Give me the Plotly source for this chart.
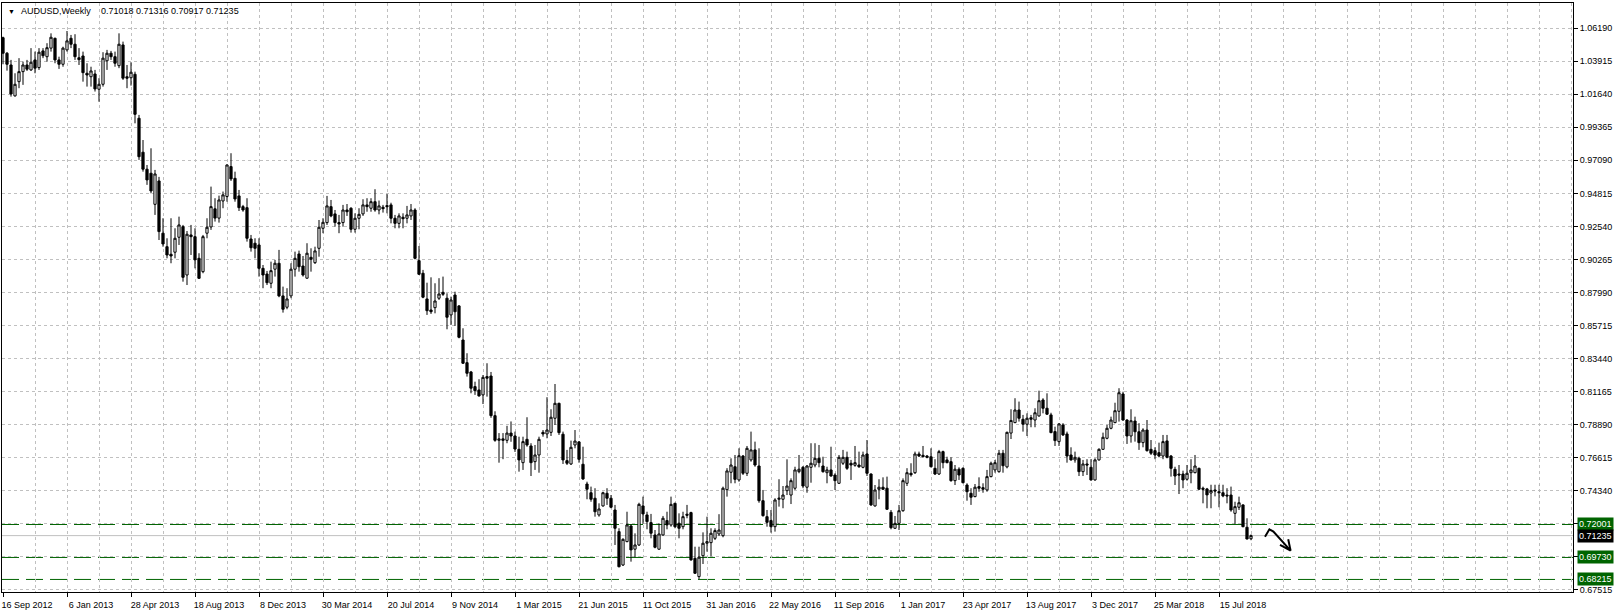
import pandas as pd
import plotly.graph_objects as go

SYMBOL = "AUDUSD,Weekly"
FIRST_WEEK = "2012-09-16"

opens = [
    1.0554, 1.0447, 1.0366, 1.0153, 1.0251, 1.0320, 1.0366, 1.0332, 1.0401, 1.0348,
    1.0463, 1.0423, 1.0482, 1.0550, 1.0401, 1.0371, 1.0470, 1.0550, 1.0509, 1.0416,
    1.0428, 1.0309, 1.0285, 1.0304, 1.0199, 1.0233, 1.0395, 1.0447, 1.0423, 1.0361,
    1.0504, 1.0285, 1.0278, 1.0302, 0.9999, 0.9765, 0.9648, 0.9620, 0.9406, 0.9567,
    0.9207, 0.9114, 0.9062, 0.9076, 0.9179, 0.9252, 0.8919, 0.9195, 0.9183, 0.9034,
    0.8942, 0.9207, 0.9250, 0.9375, 0.9311, 0.9429, 0.9460, 0.9666, 0.9585, 0.9464,
    0.9390, 0.9383, 0.9167, 0.9138, 0.9126, 0.8965, 0.8926, 0.8862, 0.8959, 0.9000,
    0.8775, 0.8697, 0.8775, 0.8959, 0.9064, 0.8981, 0.8897, 0.9041, 0.9004, 0.9103,
    0.9241, 0.9280, 0.9390, 0.9340, 0.9280, 0.9280, 0.9367, 0.9379, 0.9234, 0.9310,
    0.9340, 0.9402, 0.9379, 0.9424, 0.9367, 0.9386, 0.9397, 0.9402, 0.9310, 0.9275,
    0.9317, 0.9310, 0.9326, 0.9367, 0.9018, 0.8931, 0.8754, 0.8678, 0.8694, 0.8759,
    0.8800, 0.8759, 0.8644, 0.8781, 0.8706, 0.8471, 0.8315, 0.8251, 0.8150, 0.8127,
    0.8093, 0.8219, 0.8223, 0.7950, 0.7780, 0.7790, 0.7780, 0.7830, 0.7810, 0.7718,
    0.7626, 0.7787, 0.7741, 0.7633, 0.7679, 0.7835, 0.7824, 0.7835, 0.7932, 0.8035,
    0.7822, 0.7640, 0.7617, 0.7748, 0.7769, 0.7615, 0.7479, 0.7419, 0.7381, 0.7266,
    0.7328, 0.7415, 0.7381, 0.7300, 0.7151, 0.6921, 0.7082, 0.7190, 0.7030, 0.7059,
    0.7328, 0.7266, 0.7213, 0.7128, 0.7030, 0.7128, 0.7227, 0.7197, 0.7346, 0.7209,
    0.7185, 0.7271, 0.7282, 0.6967, 0.6841, 0.6985, 0.7071, 0.7075, 0.7105, 0.7135,
    0.7123, 0.7440, 0.7560, 0.7598, 0.7507, 0.7672, 0.7553, 0.7645, 0.7714, 0.7603,
    0.7364, 0.7254, 0.7227, 0.7185, 0.7374, 0.7374, 0.7433, 0.7403, 0.7450, 0.7564,
    0.7594, 0.7457, 0.7594, 0.7610, 0.7656, 0.7603, 0.7557, 0.7576, 0.7541, 0.7484,
    0.7622, 0.7663, 0.7622, 0.7608, 0.7610, 0.7594, 0.7686, 0.7548, 0.7328, 0.7443,
    0.7457, 0.7450, 0.7284, 0.7174, 0.7208, 0.7295, 0.7484, 0.7553, 0.7557, 0.7686,
    0.7677, 0.7672, 0.7667, 0.7587, 0.7548, 0.7702, 0.7645, 0.7633, 0.7502, 0.7581,
    0.7587, 0.7472, 0.7415, 0.7392, 0.7461, 0.7454, 0.7438, 0.7530, 0.7576, 0.7564,
    0.7691, 0.7597, 0.7830, 0.7902, 0.7989, 0.7925, 0.7891, 0.7936, 0.7920, 0.7948,
    0.8058, 0.8001, 0.7955, 0.7840, 0.7771, 0.7886, 0.7824, 0.7679, 0.7645, 0.7656,
    0.7564, 0.7617, 0.7594, 0.7507, 0.7645, 0.7718, 0.7794, 0.7863, 0.7902, 0.7980,
    0.8099, 0.7920, 0.7810, 0.7913, 0.7839, 0.7764, 0.7851, 0.7718, 0.7709, 0.7695,
    0.7672, 0.7776, 0.7672, 0.7580, 0.7548, 0.7548, 0.7512, 0.7557, 0.7557, 0.7587,
    0.7450, 0.7445, 0.7417, 0.7438, 0.7426, 0.7419, 0.7403, 0.7403, 0.7277, 0.7319,
    0.7335, 0.7181, 0.71018,
]
highs = [
    1.0561, 1.0455, 1.0401, 1.0309, 1.0413, 1.0389, 1.0401, 1.0482, 1.0458, 1.0482,
    1.0482, 1.0516, 1.0584, 1.0554, 1.0423, 1.0492, 1.0600, 1.0573, 1.0578, 1.0482,
    1.0458, 1.0378, 1.0354, 1.0332, 1.0275, 1.0454, 1.0470, 1.0463, 1.0458, 1.0584,
    1.0527, 1.0366, 1.0385, 1.0320, 1.0022, 0.9849, 0.9677, 0.9792, 0.9643, 0.9595,
    0.9310, 0.9172, 0.9310, 0.9241, 0.9321, 0.9264, 0.9222, 0.9264, 0.9241, 0.9069,
    0.9195, 0.9310, 0.9528, 0.9448, 0.9466, 0.9494, 0.9682, 0.9758, 0.9631, 0.9505,
    0.9402, 0.9448, 0.9195, 0.9172, 0.9172, 0.8988, 0.8947, 0.9011, 0.9023, 0.9092,
    0.8839, 0.8828, 0.9000, 0.9080, 0.9087, 0.9050, 0.9138, 0.9103, 0.9114, 0.9298,
    0.9310, 0.9464, 0.9436, 0.9367, 0.9333, 0.9402, 0.9408, 0.9386, 0.9344, 0.9379,
    0.9441, 0.9448, 0.9448, 0.9510, 0.9432, 0.9402, 0.9477, 0.9417, 0.9333, 0.9344,
    0.9344, 0.9395, 0.9408, 0.9379, 0.9119, 0.8954, 0.8866, 0.8903, 0.8862, 0.8897,
    0.8908, 0.8793, 0.8770, 0.8804, 0.8712, 0.8552, 0.8380, 0.8258, 0.8184, 0.8201,
    0.8230, 0.8311, 0.8251, 0.7980, 0.7830, 0.7830, 0.7880, 0.7910, 0.7840, 0.7805,
    0.7805, 0.7939, 0.7760, 0.7748, 0.7805, 0.7851, 0.8077, 0.7994, 0.8168, 0.8039,
    0.7840, 0.7714, 0.7778, 0.7851, 0.7775, 0.7736, 0.7495, 0.7461, 0.7450, 0.7346,
    0.7426, 0.7450, 0.7403, 0.7335, 0.7174, 0.7105, 0.7288, 0.7202, 0.7139, 0.7350,
    0.7392, 0.7288, 0.7273, 0.7162, 0.7208, 0.7259, 0.7288, 0.7392, 0.7350, 0.7277,
    0.7288, 0.7335, 0.7288, 0.7047, 0.7047, 0.7146, 0.7254, 0.7174, 0.7174, 0.7271,
    0.7461, 0.7588, 0.7656, 0.7679, 0.7725, 0.7679, 0.7741, 0.7840, 0.7771, 0.7725,
    0.7438, 0.7300, 0.7300, 0.7381, 0.7512, 0.7465, 0.7649, 0.7518, 0.7598, 0.7679,
    0.7603, 0.7610, 0.7760, 0.7760, 0.7748, 0.7667, 0.7598, 0.7736, 0.7553, 0.7679,
    0.7714, 0.7702, 0.7645, 0.7741, 0.7702, 0.7702, 0.7782, 0.7552, 0.7472, 0.7512,
    0.7525, 0.7530, 0.7300, 0.7259, 0.7335, 0.7518, 0.7588, 0.7622, 0.7702, 0.7702,
    0.7741, 0.7679, 0.7725, 0.7650, 0.7714, 0.7709, 0.7667, 0.7663, 0.7610, 0.7594,
    0.7594, 0.7484, 0.7450, 0.7479, 0.7525, 0.7484, 0.7576, 0.7633, 0.7645, 0.7714,
    0.7714, 0.7840, 0.7994, 0.8070, 0.8047, 0.7955, 0.7966, 0.7955, 0.8001, 0.8122,
    0.8070, 0.8104, 0.7970, 0.7874, 0.7898, 0.7898, 0.7840, 0.7732, 0.7702, 0.7667,
    0.7645, 0.7650, 0.7650, 0.7656, 0.7725, 0.7833, 0.7886, 0.7943, 0.8039, 0.8139,
    0.8115, 0.7925, 0.7994, 0.7943, 0.7898, 0.7863, 0.7920, 0.7782, 0.7732, 0.7764,
    0.7817, 0.7817, 0.7679, 0.7598, 0.7610, 0.7571, 0.7610, 0.7650, 0.7679, 0.7592,
    0.7461, 0.7452, 0.7474, 0.7474, 0.7474, 0.7474, 0.7450, 0.7461, 0.7357, 0.7392,
    0.7339, 0.7243, 0.71316,
]
lows = [
    1.0371, 1.0327, 1.0148, 1.0148, 1.0206, 1.0229, 1.0325, 1.0325, 1.0309, 1.0332,
    1.0413, 1.0389, 1.0458, 1.0378, 1.0339, 1.0354, 1.0458, 1.0482, 1.0401, 1.0366,
    1.0251, 1.0217, 1.0217, 1.0183, 1.0113, 1.0217, 1.0332, 1.0401, 1.0354, 1.0344,
    1.0263, 1.0206, 1.0224, 0.9964, 0.9712, 0.9631, 0.9540, 0.9482, 0.9333, 0.9160,
    0.9114, 0.9034, 0.9000, 0.9034, 0.9126, 0.8873, 0.8850, 0.9057, 0.8965, 0.8892,
    0.8931, 0.9172, 0.9230, 0.9287, 0.9280, 0.9379, 0.9424, 0.9567, 0.9424, 0.9360,
    0.9355, 0.9149, 0.9080, 0.9034, 0.8908, 0.8828, 0.8850, 0.8828, 0.8908, 0.8766,
    0.8660, 0.8683, 0.8759, 0.8908, 0.8942, 0.8908, 0.8894, 0.8942, 0.8995, 0.9045,
    0.9207, 0.9264, 0.9317, 0.9252, 0.9207, 0.9252, 0.9326, 0.9211, 0.9211, 0.9234,
    0.9326, 0.9355, 0.9355, 0.9355, 0.9337, 0.9349, 0.9344, 0.9275, 0.9241, 0.9241,
    0.9241, 0.9275, 0.9298, 0.9027, 0.8919, 0.8759, 0.8644, 0.8651, 0.8655, 0.8747,
    0.8775, 0.8545, 0.8575, 0.8568, 0.8483, 0.8306, 0.8219, 0.8104, 0.8093, 0.8081,
    0.8030, 0.8081, 0.7935, 0.7770, 0.7626, 0.7650, 0.7760, 0.7770, 0.7700, 0.7564,
    0.7576, 0.7736, 0.7534, 0.7576, 0.7557, 0.7805, 0.7794, 0.7810, 0.7886, 0.7817,
    0.7617, 0.7610, 0.7610, 0.7725, 0.7626, 0.7507, 0.7374, 0.7357, 0.7254, 0.7254,
    0.7323, 0.7335, 0.7312, 0.7059, 0.6905, 0.6914, 0.7078, 0.6944, 0.6974, 0.7052,
    0.7204, 0.7167, 0.7105, 0.7036, 0.7025, 0.7123, 0.7167, 0.7185, 0.7174, 0.7105,
    0.7167, 0.7243, 0.6951, 0.6859, 0.6823, 0.6928, 0.7013, 0.6981, 0.7093, 0.7121,
    0.7112, 0.7392, 0.7484, 0.7484, 0.7495, 0.7541, 0.7534, 0.7633, 0.7598, 0.7350,
    0.7254, 0.7185, 0.7144, 0.7151, 0.7323, 0.7312, 0.7403, 0.7341, 0.7438, 0.7553,
    0.7450, 0.7419, 0.7488, 0.7594, 0.7594, 0.7557, 0.7484, 0.7530, 0.7438, 0.7479,
    0.7610, 0.7576, 0.7507, 0.7598, 0.7590, 0.7587, 0.7534, 0.7328, 0.7323, 0.7374,
    0.7438, 0.7300, 0.7167, 0.7169, 0.7162, 0.7288, 0.7465, 0.7530, 0.7548, 0.7665,
    0.7663, 0.7656, 0.7594, 0.7541, 0.7541, 0.7587, 0.7622, 0.7495, 0.7472, 0.7507,
    0.7484, 0.7364, 0.7335, 0.7388, 0.7426, 0.7419, 0.7426, 0.7525, 0.7557, 0.7557,
    0.7557, 0.7587, 0.7789, 0.7898, 0.7909, 0.7840, 0.7810, 0.7870, 0.7870, 0.7943,
    0.7966, 0.7955, 0.7829, 0.7741, 0.7741, 0.7810, 0.7626, 0.7640, 0.7626, 0.7534,
    0.7534, 0.7541, 0.7502, 0.7502, 0.7640, 0.7714, 0.7787, 0.7856, 0.7898, 0.7909,
    0.7915, 0.7755, 0.7764, 0.7771, 0.7714, 0.7732, 0.7702, 0.7679, 0.7650, 0.7663,
    0.7650, 0.7656, 0.7530, 0.7472, 0.7410, 0.7450, 0.7502, 0.7484, 0.7553, 0.7438,
    0.7346, 0.7312, 0.7312, 0.7394, 0.7319, 0.7388, 0.7346, 0.7288, 0.7204, 0.7300,
    0.7181, 0.7098, 0.70917,
]
closes = [
    1.0447, 1.0371, 1.0166, 1.0233, 1.0320, 1.0366, 1.0337, 1.0385, 1.0344, 1.0454,
    1.0430, 1.0485, 1.0557, 1.0401, 1.0371, 1.0482, 1.0532, 1.0509, 1.0423, 1.0403,
    1.0313, 1.0297, 1.0325, 1.0201, 1.0233, 1.0413, 1.0447, 1.0423, 1.0378, 1.0509,
    1.0275, 1.0275, 1.0316, 1.0026, 0.9734, 0.9648, 0.9574, 0.9498, 0.9615, 0.9218,
    0.9133, 0.9057, 0.9050, 0.9172, 0.9264, 0.8903, 0.9200, 0.9183, 0.9023, 0.8896,
    0.9183, 0.9248, 0.9390, 0.9311, 0.9436, 0.9471, 0.9677, 0.9581, 0.9443, 0.9383,
    0.9367, 0.9172, 0.9107, 0.9103, 0.8965, 0.8919, 0.8866, 0.8949, 0.9000, 0.8775,
    0.8683, 0.8754, 0.8959, 0.9034, 0.8976, 0.8919, 0.9069, 0.9027, 0.9085, 0.9248,
    0.9282, 0.9395, 0.9326, 0.9280, 0.9271, 0.9367, 0.9355, 0.9234, 0.9310, 0.9337,
    0.9402, 0.9390, 0.9424, 0.9367, 0.9395, 0.9376, 0.9390, 0.9310, 0.9275, 0.9326,
    0.9307, 0.9333, 0.9367, 0.9034, 0.8924, 0.8766, 0.8673, 0.8666, 0.8740, 0.8788,
    0.8786, 0.8628, 0.8747, 0.8666, 0.8490, 0.8311, 0.8242, 0.8139, 0.8122, 0.8086,
    0.8214, 0.8208, 0.7950, 0.7780, 0.7790, 0.7780, 0.7830, 0.7810, 0.7720, 0.7645,
    0.7771, 0.7748, 0.7626, 0.7679, 0.7787, 0.7824, 0.7851, 0.7939, 0.8035, 0.7833,
    0.7645, 0.7622, 0.7732, 0.7775, 0.7649, 0.7514, 0.7443, 0.7374, 0.7288, 0.7307,
    0.7419, 0.7381, 0.7319, 0.7174, 0.6909, 0.7098, 0.7197, 0.7025, 0.7059, 0.7339,
    0.7273, 0.7220, 0.7140, 0.7043, 0.7135, 0.7243, 0.7197, 0.7339, 0.7185, 0.7174,
    0.7254, 0.7264, 0.6956, 0.6864, 0.6975, 0.7071, 0.7082, 0.7140, 0.7158, 0.7162,
    0.7450, 0.7569, 0.7610, 0.7511, 0.7674, 0.7553, 0.7725, 0.7714, 0.7610, 0.7364,
    0.7261, 0.7215, 0.7185, 0.7369, 0.7381, 0.7403, 0.7465, 0.7502, 0.7576, 0.7581,
    0.7465, 0.7603, 0.7622, 0.7656, 0.7626, 0.7564, 0.7576, 0.7534, 0.7502, 0.7663,
    0.7663, 0.7587, 0.7610, 0.7626, 0.7598, 0.7679, 0.7553, 0.7335, 0.7438, 0.7457,
    0.7443, 0.7305, 0.7178, 0.7208, 0.7295, 0.7502, 0.7557, 0.7543, 0.7686, 0.7672,
    0.7667, 0.7663, 0.7598, 0.7548, 0.7702, 0.7626, 0.7626, 0.7502, 0.7581, 0.7541,
    0.7488, 0.7426, 0.7388, 0.7457, 0.7450, 0.7443, 0.7530, 0.7622, 0.7626, 0.7691,
    0.7605, 0.7835, 0.7917, 0.7989, 0.7932, 0.7891, 0.7932, 0.7925, 0.7970, 0.8053,
    0.8001, 0.7960, 0.7833, 0.7778, 0.7893, 0.7817, 0.7672, 0.7645, 0.7663, 0.7564,
    0.7617, 0.7610, 0.7507, 0.7645, 0.7718, 0.7801, 0.7863, 0.7920, 0.7984, 0.8108,
    0.7920, 0.7810, 0.7915, 0.7839, 0.7764, 0.7851, 0.7709, 0.7691, 0.7679, 0.7672,
    0.7771, 0.7663, 0.7587, 0.7534, 0.7541, 0.7507, 0.7553, 0.7576, 0.7603, 0.7443,
    0.7443, 0.7404, 0.7435, 0.7431, 0.7419, 0.7397, 0.7397, 0.7300, 0.7323, 0.7350,
    0.7185, 0.7100, 0.71235,
]

tick_labels = [
    "16 Sep 2012", "6 Jan 2013", "28 Apr 2013", "18 Aug 2013", "8 Dec 2013",
    "30 Mar 2014", "20 Jul 2014", "9 Nov 2014", "1 Mar 2015", "21 Jun 2015",
    "11 Oct 2015", "31 Jan 2016", "22 May 2016", "11 Sep 2016", "1 Jan 2017",
    "23 Apr 2017", "13 Aug 2017", "3 Dec 2017", "25 Mar 2018", "15 Jul 2018",
]
price_ticks = [
    0.67515, 0.69790, 0.72065, 0.74340, 0.76615, 0.78890, 0.81165, 0.83440, 0.85715,
    0.87990, 0.90265, 0.92540, 0.94815, 0.97090, 0.99365, 1.01640, 1.03915, 1.06190,
]
hidden_price_ticks = [0.69790, 0.72065]
level_lines = [0.72001, 0.69730, 0.68215]
last_price = 0.71235

# hand-drawn arrow (weeks after first bar, price)
arrow_weeks = [315.5, 316.6, 317.6, 321.9, 319.25, None, 321.9, 321.3]
arrow_prices = [0.7116, 0.7167, 0.7151, 0.7020, 0.7059, None, 0.7020, 0.7098]

GREEN = "#006400"
GRID = "#c0c0c0"
FONT = "Liberation Sans"

start = pd.Timestamp(FIRST_WEEK)
week = pd.Timedelta(days=7)
dates = [start + i * week for i in range(len(closes))]
arrow_x = [None if w is None else start + pd.Timedelta(days=7 * w) for w in arrow_weeks]

fig = go.Figure()
fig.add_trace(go.Candlestick(
    x=dates, open=opens, high=highs, low=lows, close=closes,
    increasing=dict(line=dict(color="black", width=1), fillcolor="white"),
    decreasing=dict(line=dict(color="black", width=1), fillcolor="black"),
    whiskerwidth=0, showlegend=False, hoverinfo="skip",
))
for lvl in level_lines:
    fig.add_hline(y=lvl, line=dict(color=GREEN, width=1, dash="17px,7px"), layer="below")
fig.add_hline(y=last_price, line=dict(color="#c0c0c0", width=1), layer="below")

fig.add_trace(go.Scatter(
    x=arrow_x, y=arrow_prices, mode="lines",
    line=dict(color="black", width=2), showlegend=False, hoverinfo="skip",
    connectgaps=False,
))

for lvl in level_lines:
    fig.add_annotation(x=1, xref="paper", y=lvl, yref="y", xanchor="left", yanchor="middle",
                       xshift=4, text=f"{lvl:.5f}", showarrow=False,
                       font=dict(family=FONT, size=9, color="white"),
                       bgcolor=GREEN, borderpad=1)
fig.add_annotation(x=1, xref="paper", y=last_price, yref="y", xanchor="left", yanchor="middle",
                   xshift=4, text=f"{last_price:.5f}", showarrow=False,
                   font=dict(family=FONT, size=9, color="white"),
                   bgcolor="black", borderpad=1)

fig.add_annotation(x=0, xref="paper", y=1, yref="paper", xanchor="left", yanchor="middle",
                   xshift=4, yshift=-8, text="▼", showarrow=False,
                   font=dict(family=FONT, size=7, color="black"))
fig.add_annotation(x=0, xref="paper", y=1, yref="paper", xanchor="left", yanchor="middle",
                   xshift=17, yshift=-8, text=SYMBOL, showarrow=False,
                   font=dict(family=FONT, size=9, color="black"))
fig.add_annotation(x=0, xref="paper", y=1, yref="paper", xanchor="left", yanchor="middle",
                   xshift=97, yshift=-8,
                   text=f"{opens[-1]:.5f} {highs[-1]:.5f} {lows[-1]:.5f} {closes[-1]:.5f}",
                   showarrow=False, font=dict(family=FONT, size=9, color="black"))

tick_dates = [pd.to_datetime(t, format="%d %b %Y") for t in tick_labels]
price_text = ["" if p in hidden_price_ticks else f"{p:.5f}" for p in price_ticks]

x_left = start - 0.25 * week
x_right = start + 392.5 * week

fig.update_layout(
    width=1617, height=613,
    margin=dict(l=2, r=44, t=3, b=21),
    paper_bgcolor="white", plot_bgcolor="white",
    font=dict(family=FONT, size=9, color="black"),
    boxgap=0.45, boxgroupgap=0,
    showlegend=False,
    xaxis=dict(
        type="date", range=[x_left, x_right], rangeslider=dict(visible=False),
        tickmode="array", tickvals=tick_dates, ticktext=tick_labels,
        ticks="outside", ticklen=4, tickcolor="black", ticklabelshift=24,
        showgrid=True, gridcolor=GRID, griddash="3px,3px", gridwidth=1,
        minor=dict(dtick=8 * 7 * 86400000, tick0=FIRST_WEEK, showgrid=True,
                   gridcolor=GRID, griddash="3px,3px", gridwidth=1, ticks=""),
        showline=True, linecolor="black", linewidth=1, mirror=True,
        zeroline=False, fixedrange=True,
    ),
    yaxis=dict(
        side="right", range=[0.6735, 1.0793],
        tickmode="array", tickvals=price_ticks, ticktext=price_text,
        ticks="outside", ticklen=4, tickcolor="black",
        showgrid=True, gridcolor=GRID, griddash="3px,3px", gridwidth=1,
        showline=True, linecolor="black", linewidth=1, mirror=True,
        zeroline=False, fixedrange=True,
    ),
)

fig.write_html(
    "out.html",
    config={"displayModeBar": False},
    post_script="document.body.style.margin='0';document.body.style.overflow='hidden';",
)
